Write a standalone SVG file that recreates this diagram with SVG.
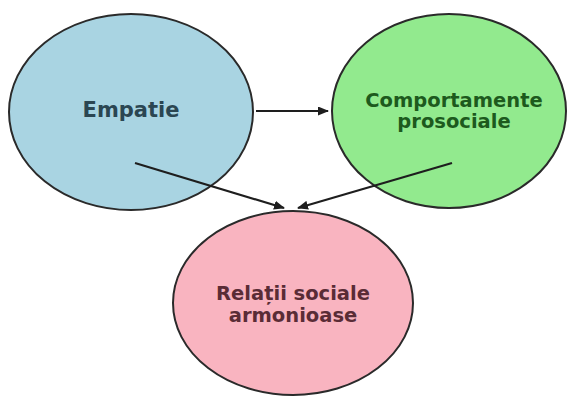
<svg xmlns="http://www.w3.org/2000/svg" width="569" height="400" viewBox="0 0 569 400">
<style>
.node{stroke:#2a2a2a;stroke-width:2}
.lbl{font-family:"DejaVu Sans","Liberation Sans",sans-serif;font-weight:bold;text-anchor:middle}
.edge{stroke:#1e1e1e;stroke-width:2.2;fill:none;marker-end:url(#ah)}
</style>
<defs>
<marker id="ah" viewBox="0 0 11 9" refX="10" refY="4.5" markerWidth="11" markerHeight="9" markerUnits="userSpaceOnUse" orient="auto">
<path d="M0,0 L11,4.5 L0,9 z" fill="#1e1e1e"/>
</marker>
</defs>
<rect width="569" height="400" fill="#ffffff"/>
<g id="node-empatie">
<ellipse class="node" cx="131" cy="112" rx="122" ry="98" fill="#a9d4e2"/>
<text class="lbl" x="131" y="117" font-size="21" fill="#2b4652">Empatie</text>
</g>
<g id="node-comportamente">
<ellipse class="node" cx="449" cy="111" rx="117" ry="97" fill="#92ea8e"/>
<text class="lbl" x="454" y="106.5" font-size="19.5" fill="#1d5a1d">Comportamente</text>
<text class="lbl" x="454" y="128" font-size="19.5" fill="#1d5a1d">prosociale</text>
</g>
<g id="node-relatii">
<ellipse class="node" cx="293" cy="303" rx="120" ry="92" fill="#f9b4c0"/>
<text class="lbl" x="293" y="300" font-size="19.5" fill="#5a2c36">Relații sociale</text>
<text class="lbl" x="293" y="321.5" font-size="19.5" fill="#5a2c36">armonioase</text>
</g>
<g id="connectors">
<line class="edge" x1="256" y1="111" x2="328" y2="111"/>
<line class="edge" x1="135" y1="163" x2="284" y2="208"/>
<line class="edge" x1="452" y1="163" x2="298" y2="208"/>
</g>
</svg>
